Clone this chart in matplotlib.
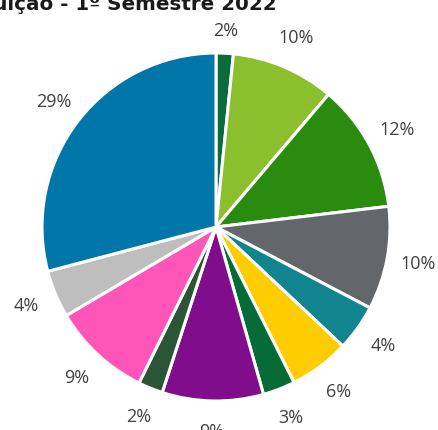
import numpy as np
import matplotlib
matplotlib.use("Agg")
import matplotlib.pyplot as plt

# slices clockwise from 12 o'clock
categories = ["A", "B", "C", "D", "E", "F", "G", "H", "I", "J", "K", "L"]
shares = [1.6, 9.6, 11.9, 9.6, 4.3, 5.6, 3.0, 9.4, 2.3, 9.2, 4.4, 29.1]
colors = ["#0a6b3c", "#8cbf2d", "#2a8c0f", "#63666a", "#10848f", "#ffcc00",
          "#076b38", "#800d8c", "#2c5535", "#ff55b8", "#bdbebd", "#0077a8"]
title = "Distribuição - 1º Semestre 2022"

W, H = 438, 430
fig = plt.figure(figsize=(W / 100, H / 100), dpi=100)

cx, cy, r = 216, 227, 174
ax = fig.add_axes([(cx - r) / W, (H - cy - r) / H, 2 * r / W, 2 * r / H])
wedges, _, pcts = ax.pie(
    shares, colors=colors, startangle=90, counterclock=False,
    autopct="%.0f%%", pctdistance=1.18,
    wedgeprops=dict(edgecolor="white", linewidth=2.2),
    textprops=dict(fontsize=13, color="#404040", family="Open Sans"))

# first label sits a bit closer to the pie (under the title)
w0 = wedges[0]
ang = np.deg2rad((w0.theta1 + w0.theta2) / 2)
pcts[0].set_position((1.13 * np.cos(ang), 1.13 * np.sin(ang)))

ax.set_xlim(-1, 1); ax.set_ylim(-1, 1)
ax.set_aspect("equal")
ax.axis("off")

# title is cropped at the top-left in the reference
fig.text(277 / W, 1 - 4 / H, title, ha="right", va="center",
         fontsize=14.3, fontweight="bold", color="#1a1a1a", family="DejaVu Sans")

fig.savefig("out.png", dpi=100)
